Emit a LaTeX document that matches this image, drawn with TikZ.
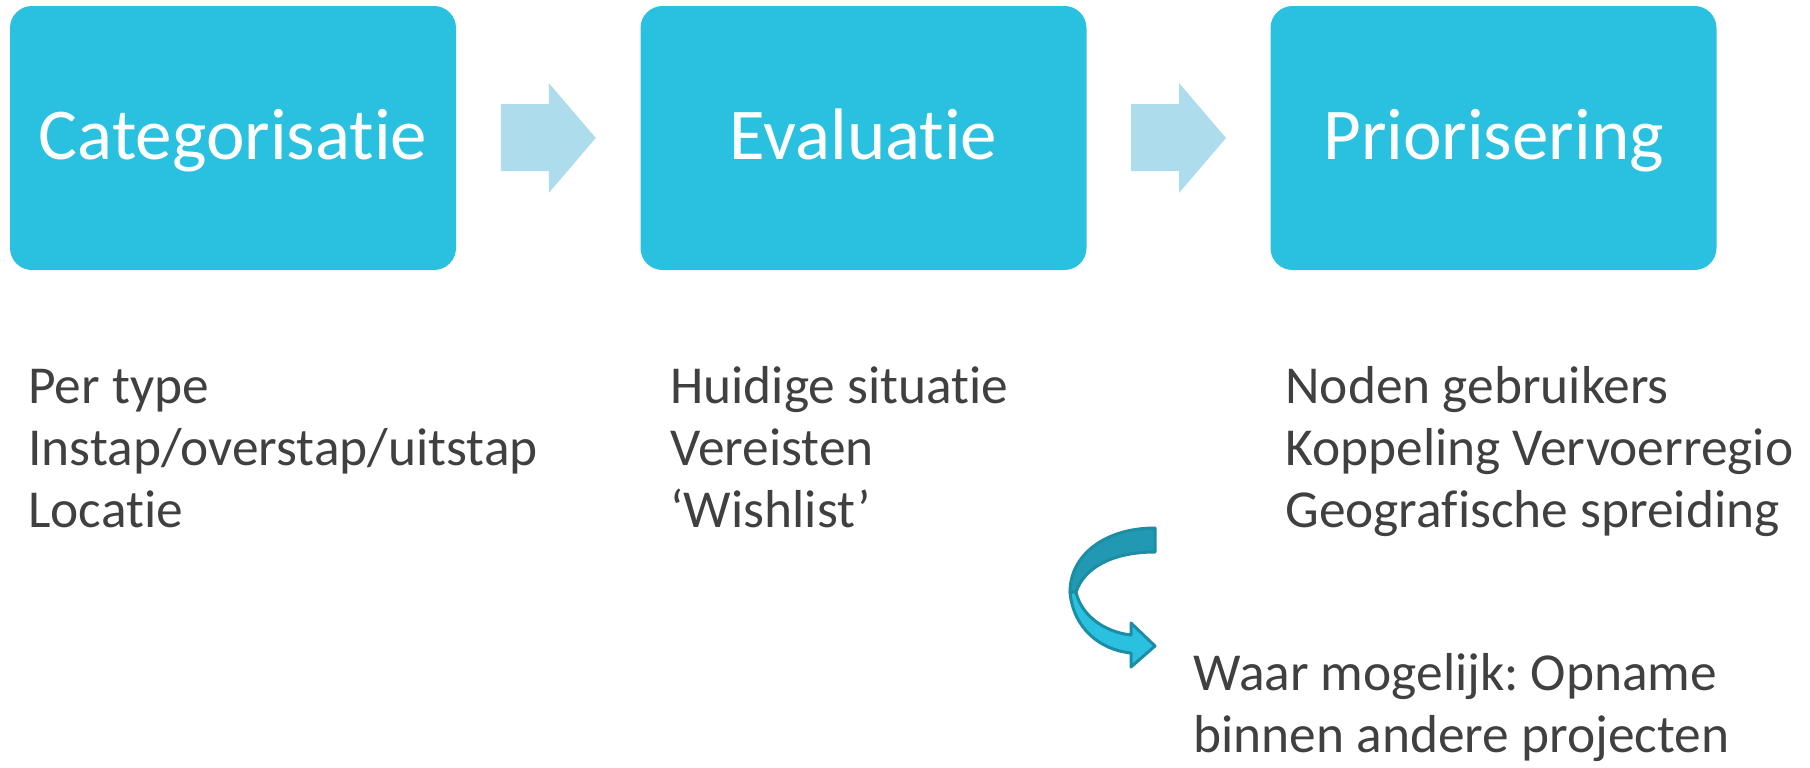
\documentclass[tikz,border=0pt]{standalone}
\usepackage{fontspec}
\setmainfont{Carlito}[Ligatures=NoCommon]
\usepackage{tikz}
\usetikzlibrary{calc}

\definecolor{boxblue}{HTML}{29C1DF}
\definecolor{arrowblue}{HTML}{ADDCEC}
\definecolor{curvedark}{HTML}{2199B2}
\definecolor{curveline}{HTML}{1B8DA5}
\definecolor{textgray}{HTML}{404040}

\begin{document}
\frenchspacing
\begin{tikzpicture}[x=0.5pt, y=-0.5pt]
    \tikzstyle{stage} = [fill=boxblue, rounded corners=11pt, minimum width=223pt,
	minimum height=132pt, inner sep=0pt, text=white,
	font=\fontsize{36.5}{44}\selectfont, text height=27.4pt, text depth=6.4pt]
    \tikzstyle{items} = [anchor=base west, align=left, inner sep=0pt, text=textgray,
	font=\fontsize{26.7}{31}\selectfont]
    \tikzstyle{blockarrow} = [fill=arrowblue]

	\useasboundingbox (0,0) rectangle (1810,767);

	% the three stages
	\node[stage] (cat) at (233,138) {Categorisatie};
	\node[stage] (eva) at (863.5,138) {Evaluatie};
	\node[stage] (pri) at (1493.5,138) {Priorisering};

	% block arrows between the stages
	\coordinate (m1) at ($(cat.east)!0.5!(eva.west)$);
	\coordinate (m2) at ($(eva.east)!0.5!(pri.west)$);
	\foreach \m in {m1, m2}
		\fill[blockarrow] ($(\m)+(-47.5,-34)$) -- ($(\m)+(0.5,-34)$)
			-- ($(\m)+(0.5,-55)$) -- ($(\m)+(47.5,0)$) -- ($(\m)+(0.5,55)$)
			-- ($(\m)+(0.5,33)$) -- ($(\m)+(-47.5,33)$) -- cycle;

	% lists below the stages (anchored at the last line)
	\node[items] (catlist) at (28,527) {Per type\\Instap/overstap/uitstap\\Locatie};
	\node[items] (evalist) at (670,527) {Huidige situatie\\Vereisten\\‘Wishlist’};
	\node[items] (prilist) at (1285,527) {Noden gebruikers\\Koppeling Vervoerregio\\Geografische spreiding};

	\node[items] (opname) at (1193,752) {Waar mogelijk: Opname\\binnen andere projecten};

	% curved arrow
	\filldraw[fill=curvedark, draw=curveline, line width=1.5pt, line join=round]
		(1155,528) .. controls (1105,528) and (1070,555) .. (1070,592)
		-- (1076,592) .. controls (1084,568) and (1112,552) .. (1155,552) -- cycle;
	\filldraw[fill=boxblue, draw=curveline, line width=1.5pt, line join=round]
		(1070,592) .. controls (1073,628) and (1100,650) .. (1131,653)
		-- (1131,667) -- (1155,646) -- (1131,623) -- (1131,635)
		.. controls (1104,632) and (1081,615) .. (1076,592) -- cycle;
\end{tikzpicture}
\end{document}
